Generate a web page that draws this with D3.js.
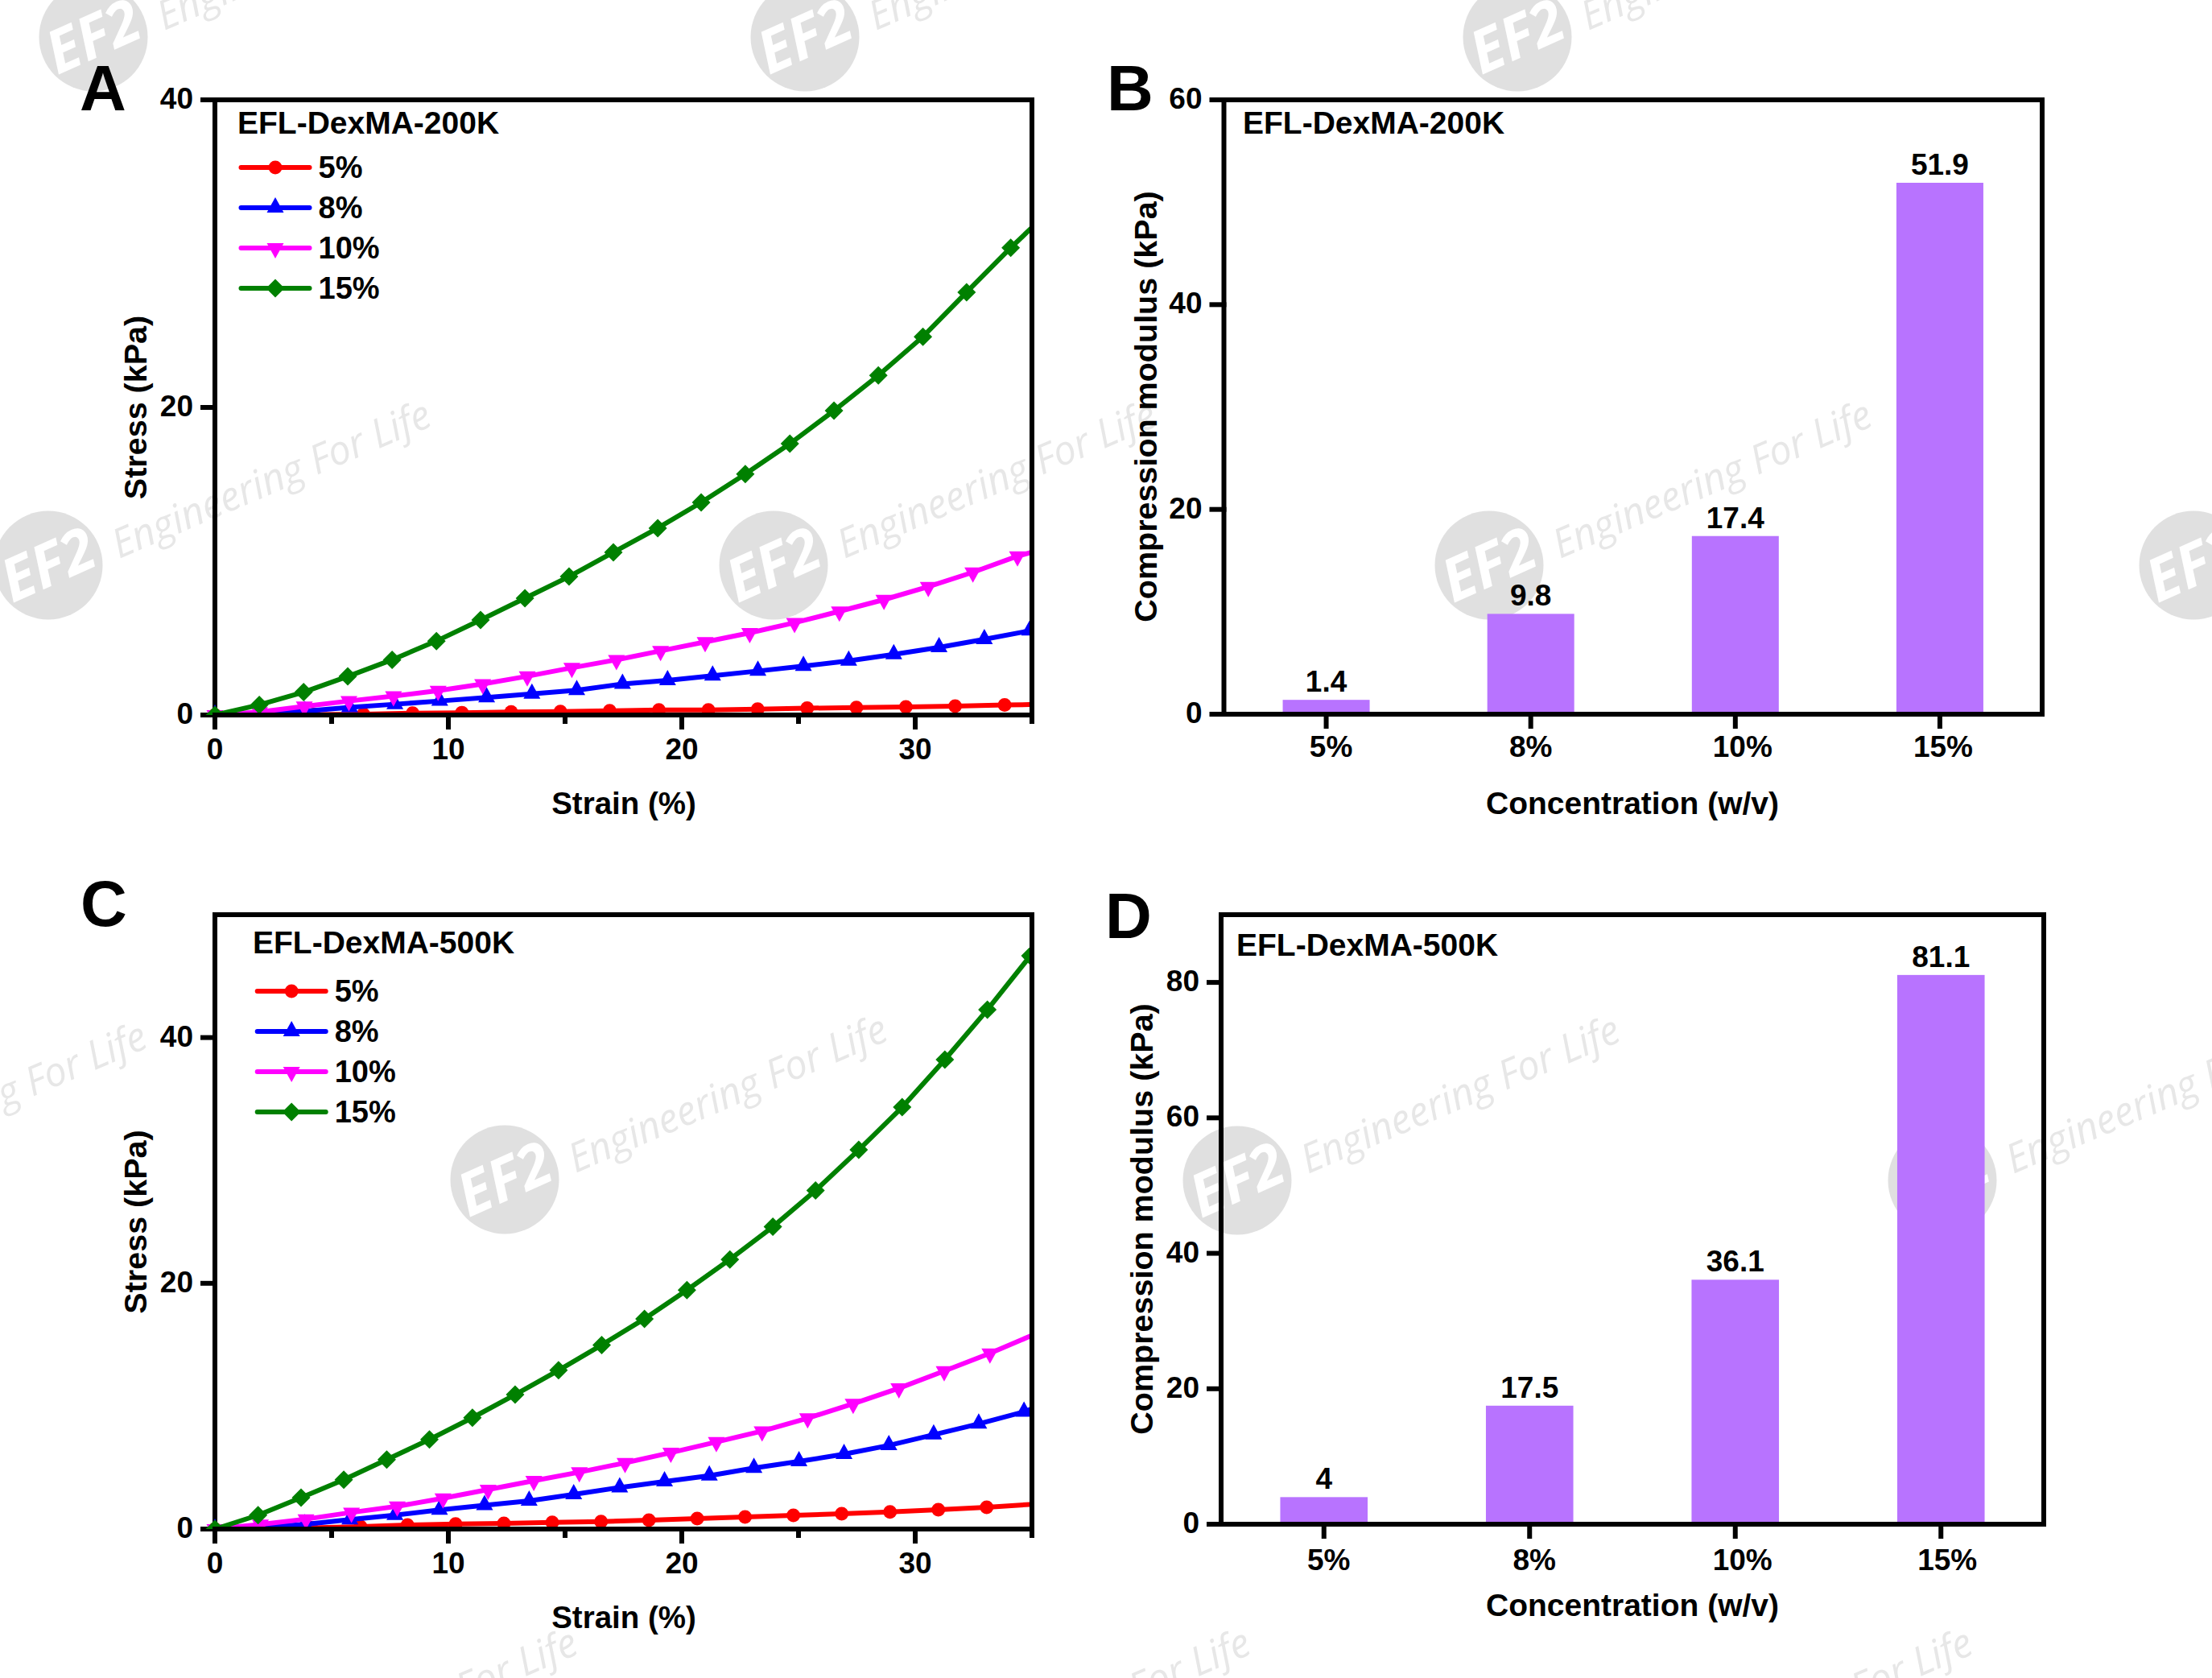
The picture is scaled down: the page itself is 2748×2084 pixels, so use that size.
<!DOCTYPE html>
<html lang="en">
<head>
<meta charset="utf-8" />
<title>EFL-DexMA compression</title>
<script src="https://cdnjs.cloudflare.com/ajax/libs/d3/7.8.5/d3.min.js"></script>
<style>
    html, body { margin: 0; padding: 0; background: #fff; }
    svg { display: block; }
    text { font-family: "Liberation Sans", Arial, sans-serif; font-weight: bold; fill: #000; }
    .wm text { font-family: "Open Sans", sans-serif; font-style: italic; }
</style>
</head>
<body>
<svg id="fig" width="2748" height="2084"></svg>
<script>
// series names and colours
var concentrations = ["5%", "8%", "10%", "15%"];
var lineColors = ["#ff0000", "#0000ff", "#ff00ff", "#008000"];
var barColor = "#b873ff";

// panel A, 200K stress-strain
var strainA5 = [0, 2.12, 4.24, 6.36, 8.47, 10.58, 12.69, 14.8, 16.91, 19.02, 21.14, 23.25, 25.37, 27.48, 29.6, 31.71, 33.83, 35];
var stressA5 = [0, 0.01, 0.03, 0.05, 0.12, 0.15, 0.19, 0.22, 0.27, 0.33, 0.33, 0.38, 0.44, 0.49, 0.52, 0.58, 0.65, 0.68];
var strainA8 = [0, 1.92, 3.85, 5.77, 7.71, 9.63, 11.64, 13.58, 15.5, 17.46, 19.39, 21.32, 23.26, 25.21, 27.15, 29.08, 31.02, 32.96, 34.9, 35];
var stressA8 = [0, 0.08, 0.25, 0.5, 0.7, 0.91, 1.14, 1.37, 1.61, 2.02, 2.25, 2.55, 2.86, 3.18, 3.52, 3.94, 4.4, 4.92, 5.48, 5.52];
var strainA10 = [0, 1.91, 3.83, 5.74, 7.65, 9.56, 11.47, 13.38, 15.29, 17.2, 19.09, 21, 22.91, 24.83, 26.75, 28.66, 30.56, 32.47, 34.38, 35];
var stressA10 = [0, 0.2, 0.56, 0.91, 1.23, 1.58, 2.02, 2.52, 3.07, 3.59, 4.17, 4.75, 5.34, 6, 6.74, 7.5, 8.34, 9.28, 10.33, 10.58];
var strainA15 = [0, 1.9, 3.8, 5.69, 7.59, 9.49, 11.38, 13.28, 15.17, 17.07, 18.97, 20.83, 22.72, 24.63, 26.52, 28.42, 30.33, 32.2, 34.09, 35];
var stressA15 = [0, 0.66, 1.49, 2.51, 3.59, 4.81, 6.18, 7.59, 9, 10.58, 12.15, 13.82, 15.67, 17.64, 19.79, 22.08, 24.6, 27.49, 30.38, 31.7];

// panel C, 500K stress-strain
var strainC5 = [0, 2.07, 4.13, 6.24, 8.25, 10.31, 12.38, 14.45, 16.54, 18.59, 20.66, 22.71, 24.78, 26.85, 28.92, 30.99, 33.06, 35];
var stressC5 = [0, 0.05, 0.1, 0.2, 0.33, 0.41, 0.46, 0.54, 0.61, 0.72, 0.85, 0.98, 1.11, 1.24, 1.39, 1.57, 1.77, 2.01];
var strainC8 = [0, 1.92, 3.84, 5.78, 7.71, 9.62, 11.55, 13.46, 15.37, 17.34, 19.26, 21.18, 23.09, 25.02, 26.95, 28.87, 30.79, 32.72, 34.66, 35];
var stressC8 = [0, 0.15, 0.37, 0.77, 1.13, 1.55, 1.94, 2.29, 2.82, 3.38, 3.86, 4.34, 4.96, 5.5, 6.09, 6.81, 7.68, 8.56, 9.54, 9.8];
var strainC10 = [0, 1.95, 3.9, 5.85, 7.81, 9.77, 11.7, 13.66, 15.61, 17.57, 19.53, 21.48, 23.44, 25.39, 27.34, 29.3, 31.24, 33.2, 35];
var stressC10 = [0, 0.37, 0.81, 1.35, 1.85, 2.51, 3.21, 3.93, 4.63, 5.39, 6.22, 7.09, 7.97, 9.02, 10.2, 11.46, 12.86, 14.3, 15.76];
var strainC15 = [0, 1.85, 3.69, 5.52, 7.36, 9.19, 11.03, 12.86, 14.72, 16.57, 18.4, 20.22, 22.06, 23.9, 25.73, 27.58, 29.44, 31.27, 33.09, 34.93, 35];
var stressC15 = [0, 1.13, 2.55, 4.01, 5.65, 7.29, 9.06, 10.94, 12.92, 14.98, 17.11, 19.45, 21.94, 24.6, 27.55, 30.86, 34.33, 38.2, 42.26, 46.65, 46.9];

// bars
var modulusB = [1.4, 9.8, 17.4, 51.9];
var modulusD = [4, 17.5, 36.1, 81.1];

// tick labels
var strainTicks = [0, 10, 20, 30];
var strainMinorTicks = [5, 15, 25, 35];
var stressTicks = [0, 20, 40];
var modulusTicksB = [0, 20, 40, 60];
var modulusTicksD = [0, 20, 40, 60, 80];

// background logo stamps
var stampCenters = [[116, 46], [1000, 46], [1885, 46], [60, 702], [961, 702], [1850, 702], [2725, 702],
    [627, 1465], [1537, 1466], [2413, 1466], [242, 2227], [1078, 2227], [1975, 2227], [-293, 1474]];

var svg = d3.select("#fig");
svg.append("rect").attr("width", 2748).attr("height", 2084).attr("fill", "#fff");

function drawStamps() {
    var wm = svg.append("g").attr("class", "wm");
    stampCenters.forEach(function(c) {
        var g = wm.append("g").attr("transform", "translate(" + c[0] + "," + c[1] + ")");
        g.append("circle").attr("r", 67.5).attr("fill", "#e0e0e0");
        g.append("text").attr("transform", "rotate(-24)").attr("text-anchor", "middle").attr("y", 25)
            .attr("font-size", 74).style("font-weight", "bold").style("fill", "#fff").text("EF2");
        g.append("text").attr("transform", "translate(88,-8) rotate(-23)")
            .attr("font-size", 50).attr("textLength", 425).attr("lengthAdjust", "spacingAndGlyphs")
            .style("font-weight", "normal").style("fill", "#e7e7e7").text("Engineering For Life");
    });
}

// marker shapes, centred on the data point
function marker(sel, i) {
    if (i == 0) {
        sel.append("circle").attr("r", 8.5).attr("fill", lineColors[i]);
    } else {
        var shape = ["", "M0,-13L10.5,6L-10.5,6Z", "M0,13L10.5,-6L-10.5,-6Z", "M0,-11.5L11.5,0L0,11.5L-11.5,0Z"][i];
        sel.append("path").attr("d", shape).attr("fill", lineColors[i]);
    }
}

function axisStyle(g, fontSize) {
    g.selectAll("path, line").attr("stroke", "#000").attr("stroke-width", 6).attr("stroke-linecap", "square");
    g.selectAll("text").attr("font-size", fontSize).attr("fill", "#000");
}

function yAxis(plot, y, ticks, left) {
    var g = plot.append("g").attr("transform", "translate(" + left + ",0)")
        .call(d3.axisLeft(y).tickValues(ticks).tickSize(15).tickSizeOuter(0).tickPadding(12).offset(0));
    axisStyle(g, 37);
    g.selectAll("text").attr("dy", "0.3em");
}

function topRight(plot, p) {
    plot.append("path")
        .attr("d", d3.line()([[p.left, p.top], [p.right, p.top], [p.right, p.bottom]]))
        .attr("fill", "none").attr("stroke", "#000").attr("stroke-width", 6).attr("stroke-linecap", "square");
}

function stressPanel(p, strains, stresses, yMax, title) {
    var plot = svg.append("g");
    var x = d3.scaleLinear().domain([0, 35]).range([p.left, p.right]);
    var y = d3.scaleLinear().domain([0, yMax]).range([p.bottom, p.top]);

    yAxis(plot, y, stressTicks, p.left);

    // curves stop at the frame, the first marker sits over the left axis
    var clipId = "clip" + p.letter;
    plot.append("clipPath").attr("id", clipId).append("rect")
        .attr("x", p.left - 14).attr("y", p.top).attr("width", p.right - p.left + 11).attr("height", p.bottom - p.top);
    var curves = plot.append("g").attr("clip-path", "url(#" + clipId + ")");
    var line = d3.line();
    strains.forEach(function(xs, i) {
        var pts = xs.map(function(v, k) { return [x(v), y(stresses[i][k])]; });
        curves.append("path").attr("d", line(pts)).attr("fill", "none")
            .attr("stroke", lineColors[i]).attr("stroke-width", 6);
        pts.forEach(function(pt, k) {
            // the last entry is where the curve leaves the frame, no marker there
            if (k == pts.length - 1 && xs[k] == 35) return;
            var m = curves.append("g").attr("transform", "translate(" + pt[0] + "," + pt[1] + ")");
            marker(m, i);
        });
    });

    var xg = plot.append("g").attr("transform", "translate(0," + p.bottom + ")")
        .call(d3.axisBottom(x).tickValues(strainTicks).tickSize(15).tickSizeOuter(0).offset(0));
    axisStyle(xg, 37);
    xg.selectAll("text").attr("y", 55).attr("dy", 0);
    var minor = plot.append("g").attr("transform", "translate(0," + p.bottom + ")")
        .call(d3.axisBottom(x).tickValues(strainMinorTicks).tickSize(8).tickSizeOuter(0).tickFormat("").offset(0));
    axisStyle(minor, 37);
    topRight(plot, p);

    plot.append("text").attr("x", p.titleX).attr("y", p.titleY).attr("font-size", 39).text(title);

    concentrations.forEach(function(name, i) {
        var ly = p.legendY + i * 50;
        plot.append("path").attr("d", d3.line()([[p.legendX + 3, ly], [p.legendX + 88, ly]]))
            .attr("stroke", lineColors[i]).attr("stroke-width", 6).attr("stroke-linecap", "round");
        marker(plot.append("g").attr("transform", "translate(" + (p.legendX + 45.5) + "," + ly + ")"), i);
        plot.append("text").attr("x", p.legendX + 99).attr("y", ly + 13).attr("font-size", 38).text(name);
    });

    plot.append("text").attr("x", p.left + 508).attr("y", p.bottom + 123).attr("text-anchor", "middle")
        .attr("font-size", 38.5).text("Strain (%)");
    plot.append("text").attr("transform", "translate(182," + (p.top + p.bottom) / 2 + ") rotate(-90)")
        .attr("text-anchor", "middle").attr("font-size", 39.5).text("Stress (kPa)");
    letter(p);
}

function barPanel(p, values, ticks, yMax, title) {
    var plot = svg.append("g");
    var x = d3.scaleBand().domain(concentrations).range([p.left, p.right]).paddingInner(0.575).paddingOuter(0.2875);
    var y = d3.scaleLinear().domain([0, yMax]).range([p.bottom, p.top]);

    plot.selectAll("rect.bar").data(values).enter().append("rect").attr("class", "bar")
        .attr("x", function(d, i) { return x(concentrations[i]); })
        .attr("width", x.bandwidth())
        .attr("y", function(d) { return y(d); })
        .attr("height", function(d) { return p.bottom - y(d); })
        .attr("fill", barColor);

    plot.selectAll("text.val").data(values).enter().append("text").attr("class", "val")
        .attr("x", function(d, i) { return x(concentrations[i]) + x.bandwidth() / 2; })
        .attr("y", function(d) { return y(d) - 10; })
        .attr("text-anchor", "middle").attr("font-size", 37).text(function(d) { return d; });

    yAxis(plot, y, ticks, p.left);
    var xg = plot.append("g").attr("transform", "translate(0," + p.bottom + ")")
        .call(d3.axisBottom(x).tickSize(15).tickSizeOuter(0).offset(0));
    axisStyle(xg, 37);
    // the original's category labels sit a little off their ticks
    xg.selectAll("text").attr("x", function(d, i) { return p.labelDx[i]; }).attr("y", p.labelY).attr("dy", 0);
    topRight(plot, p);

    plot.append("text").attr("x", p.titleX).attr("y", p.titleY).attr("font-size", 39).text(title);
    plot.append("text").attr("x", 2028).attr("y", p.xTitleY).attr("text-anchor", "middle")
        .attr("font-size", 39).text("Concentration (w/v)");
    plot.append("text").attr("transform", "translate(" + p.yTitleX + "," + p.yTitleY + ") rotate(-90)")
        .attr("text-anchor", "middle").attr("font-size", 39.5).text("Compression modulus (kPa)");
    letter(p);
}

function letter(p) {
    svg.append("text").attr("x", p.letterX).attr("y", p.letterY).attr("font-size", 80).text(p.letter);
}

drawStamps();

stressPanel({letter: "A", left: 267, right: 1282, top: 124, bottom: 888, titleX: 295, titleY: 166,
        legendX: 296.5, legendY: 208, letterX: 99, letterY: 137},
    [strainA5, strainA8, strainA10, strainA15], [stressA5, stressA8, stressA10, stressA15], 40, "EFL-DexMA-200K");

barPanel({letter: "B", left: 1520.5, right: 2537, top: 124, bottom: 887, titleX: 1544, titleY: 166,
        labelDx: [6, 0, 9, 4], labelY: 53, xTitleY: 1011, yTitleX: 1437, yTitleY: 505, letterX: 1375, letterY: 137},
    modulusB, modulusTicksB, 60, "EFL-DexMA-200K");

stressPanel({letter: "C", left: 267, right: 1282, top: 1136, bottom: 1899, titleX: 314, titleY: 1184,
        legendX: 316.7, legendY: 1231, letterX: 100, letterY: 1150},
    [strainC5, strainC8, strainC10, strainC15], [stressC5, stressC8, stressC10, stressC15], 50, "EFL-DexMA-500K");

barPanel({letter: "D", left: 1517, right: 2539, top: 1136, bottom: 1893, titleX: 1536, titleY: 1187,
        labelDx: [6, 6, 9, 8], labelY: 57, xTitleY: 2007, yTitleX: 1432, yTitleY: 1514, letterX: 1373, letterY: 1165},
    modulusD, modulusTicksD, 90, "EFL-DexMA-500K");
</script>
</body>
</html>
